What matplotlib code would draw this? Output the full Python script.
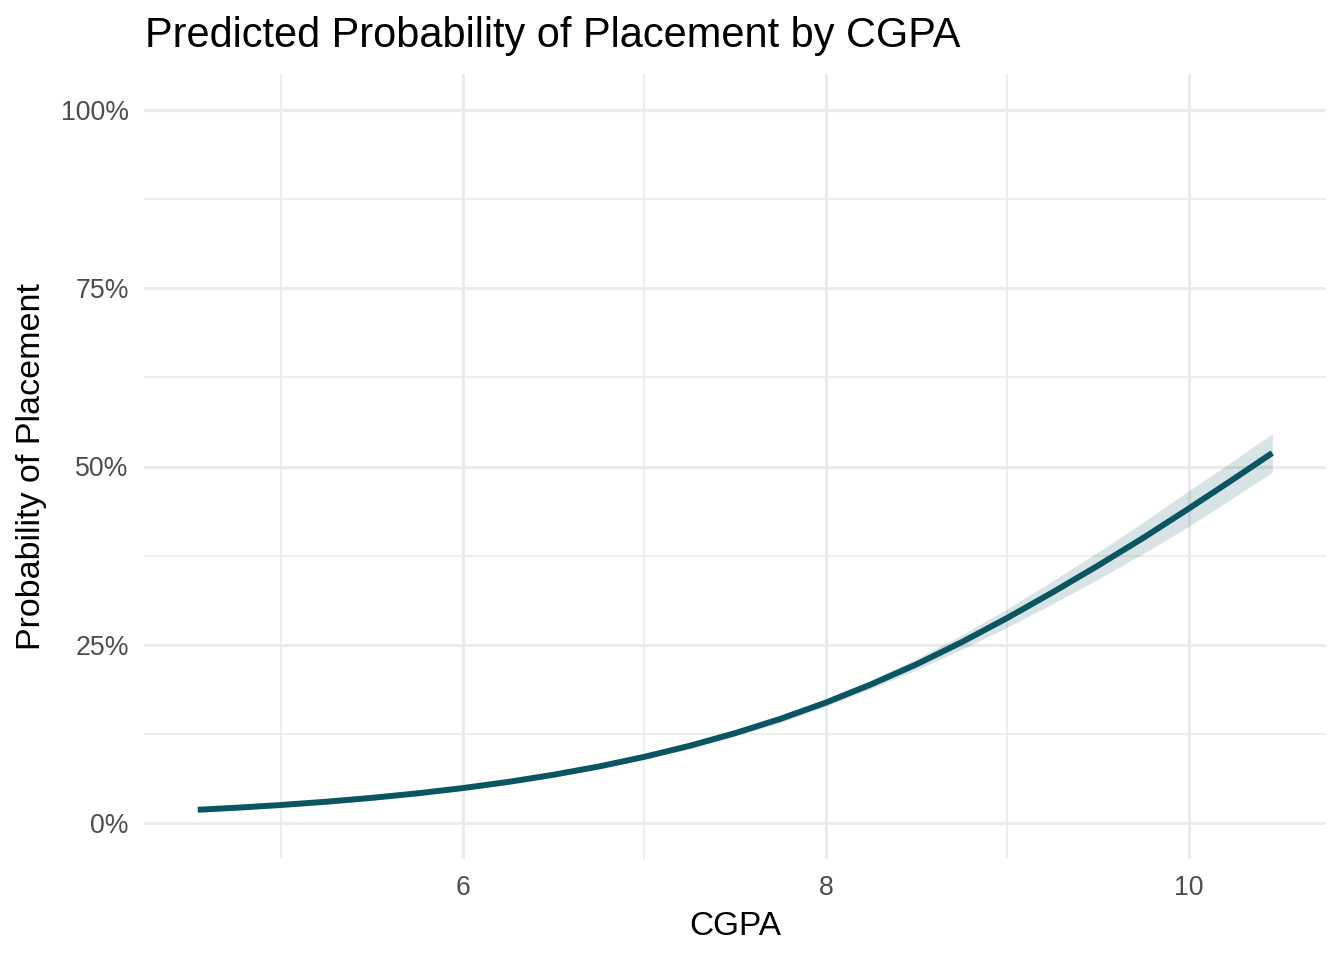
import numpy as np
import matplotlib
matplotlib.use("Agg")
import matplotlib.pyplot as plt
from matplotlib.ticker import FuncFormatter, MultipleLocator

plt.rcParams['font.family'] = ['Liberation Sans', 'DejaVu Sans']

# predicted probability curve
cgpa = [4.54, 4.75, 5.0, 5.25, 5.5, 5.75, 6.0, 6.25, 6.5, 6.75, 7.0, 7.25, 7.5,
        7.75, 8.0, 8.25, 8.5, 8.75, 9.0, 9.25, 9.5, 9.75, 10.0, 10.25, 10.46]
prob = [0.0185, 0.0213, 0.0252, 0.0298, 0.0352, 0.0415, 0.0489, 0.0575, 0.0676,
        0.0792, 0.0927, 0.1082, 0.1259, 0.1460, 0.1688, 0.1944, 0.2225, 0.2537,
        0.2876, 0.3235, 0.3610, 0.4000, 0.4410, 0.4830, 0.5190]
# confidence band half-width
band = [0.002, 0.002, 0.002, 0.002, 0.002, 0.002, 0.002, 0.003, 0.003, 0.003,
        0.003, 0.004, 0.004, 0.005, 0.005, 0.006, 0.008, 0.010, 0.013, 0.016,
        0.019, 0.022, 0.025, 0.026, 0.027]

x = np.array(cgpa)
p = np.array(prob)
b = np.array(band)

line_col = '#0b5563'

fig = plt.figure(figsize=(13.44, 9.6), dpi=100)
ax = fig.add_axes([144 / 1344, 1 - 858.6 / 960, (1326 - 144) / 1344, (858.6 - 74.4) / 960])

ax.fill_between(x, p - b, p + b, color=line_col, alpha=0.16, linewidth=0, zorder=2)
ax.plot(x, p, color=line_col, linewidth=4.3, solid_capstyle='butt',
        solid_joinstyle='round', zorder=3)

ax.set_xlim(4.244, 10.756)
ax.set_ylim(-0.05, 1.05)

ax.xaxis.set_major_locator(MultipleLocator(2))
ax.xaxis.set_minor_locator(MultipleLocator(1))
ax.yaxis.set_major_locator(MultipleLocator(0.25))
ax.yaxis.set_minor_locator(MultipleLocator(0.125))
ax.yaxis.set_major_formatter(FuncFormatter(lambda v, pos: f"{v * 100:.0f}%"))

ax.grid(which='major', color='#ebebeb', linewidth=2.2, zorder=0)
ax.grid(which='minor', color='#ebebeb', linewidth=1.2, zorder=0)
ax.set_axisbelow(True)
for s in ax.spines.values():
    s.set_visible(False)

ax.tick_params(which='both', length=0)
ax.tick_params(axis='x', labelsize=19.2, labelcolor='#4d4d4d', pad=12)
ax.tick_params(axis='y', labelsize=19.2, labelcolor='#4d4d4d', pad=11)

fig.text(735 / 1344, 1 - 935 / 960, 'CGPA', fontsize=24, ha='center', va='baseline')
fig.text(32 / 1344, 1 - 466 / 960, 'Probability of Placement', fontsize=24.5,
         rotation=90, ha='center', va='center')
fig.text(145 / 1344, 1 - 47 / 960, 'Predicted Probability of Placement by CGPA',
         fontsize=29.9, ha='left', va='baseline')

fig.savefig('out.png', dpi=100)
